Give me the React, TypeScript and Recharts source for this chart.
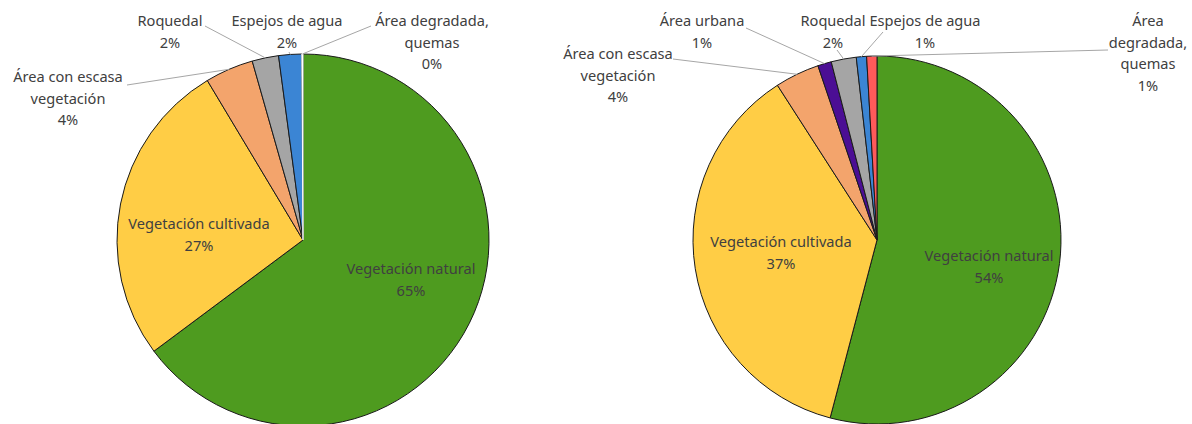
import { Cell, Pie, PieChart } from "recharts";

const leftNames = [
  "Vegetación natural",
  "Vegetación cultivada",
  "Área con escasa vegetación",
  "Roquedal",
  "Espejos de agua",
  "Área degradada, quemas",
];
const leftValues = [64.8, 26.6, 4.2, 2.3, 2.0, 0.1];
const leftLabelLines = [
  ["Vegetación natural"],
  ["Vegetación cultivada"],
  ["Área con escasa", "vegetación"],
  ["Roquedal"],
  ["Espejos de agua"],
  ["Área degradada,", "quemas"],
];

const rightNames = [
  "Vegetación natural",
  "Vegetación cultivada",
  "Área con escasa vegetación",
  "Área urbana",
  "Roquedal",
  "Espejos de agua",
  "Área degradada, quemas",
];
const rightValues = [54.1, 36.8, 3.9, 1.2, 2.2, 0.9, 0.9];
const rightLabelLines = [
  ["Vegetación natural"],
  ["Vegetación cultivada"],
  ["Área con escasa", "vegetación"],
  ["Área urbana"],
  ["Roquedal"],
  ["Espejos de agua"],
  ["Área", "degradada,", "quemas"],
];

const leftColors = ["#4E9B1F", "#FFCD45", "#F3A46C", "#A5A5A5", "#3B85D4", "#FFFFFF"];
const rightColors = ["#4E9B1F", "#FFCD45", "#F3A46C", "#4B0E94", "#A5A5A5", "#3B85D4", "#FF5A5A"];

// label placement, offsets from the pie centre; lx/ly = where the leader line starts
type Place = { dx: number; dy: number; lx?: number; ly?: number };
const leftPlaces: Place[] = [
  { dx: 108, dy: 30 },
  { dx: -104, dy: -15 },
  { dx: -235, dy: -162, lx: -176, ly: -155 },
  { dx: -133, dy: -218, lx: -98, ly: -214 },
  { dx: -16, dy: -218, lx: -14, ly: -188 },
  { dx: 129, dy: -218, lx: 68, ly: -214 },
];
const rightPlaces: Place[] = [
  { dx: 112, dy: 17 },
  { dx: -96, dy: 3 },
  { dx: -259, dy: -185, lx: -204, ly: -181 },
  { dx: -175, dy: -218, lx: -131, ly: -212 },
  { dx: -44, dy: -218, lx: -40, ly: -190 },
  { dx: 48, dy: -218, lx: 6, ly: -208 },
  { dx: 271, dy: -218, lx: 231, ly: -190 },
];

const RAD = Math.PI / 180;
const LINE_H = 21.5;
const FONT = "'Noto Sans', sans-serif";

function makeLabel(values: number[], lines: string[][], places: Place[]) {
  const total = values.reduce((a, b) => a + b, 0);
  return (p: any) => {
    const i = p.index;
    const pl = places[i];
    const x = p.cx + pl.dx;
    const y = p.cy + pl.dy;
    const rows = [...lines[i], `${Math.round((values[i] / total) * 100)}%`];
    let leader = null;
    if (pl.lx !== undefined && pl.ly !== undefined) {
      const ex = p.cx + p.outerRadius * Math.cos(-p.midAngle * RAD);
      const ey = p.cy + p.outerRadius * Math.sin(-p.midAngle * RAD);
      leader = (
        <polyline
          points={`${p.cx + pl.lx},${p.cy + pl.ly} ${ex},${ey}`}
          stroke="#A6A6A6"
          strokeWidth={1}
          fill="none"
        />
      );
    }
    return (
      <g key={`lbl-${i}`}>
        {leader}
        <text
          x={x}
          y={y}
          textAnchor="middle"
          dominantBaseline="middle"
          fill="#404040"
          fontSize={14.6}
          fontFamily={FONT}
        >
          {rows.map((r, k) => (
            <tspan key={k} x={x} y={y + k * LINE_H}>
              {r}
            </tspan>
          ))}
        </text>
      </g>
    );
  };
}

const leftData = leftNames.map((name, i) => ({ name, value: leftValues[i] }));
const rightData = rightNames.map((name, i) => ({ name, value: rightValues[i] }));

export default function App() {
  return (
    <div style={{ position: "absolute", left: 0, top: 0, width: 1192, height: 424, background: "#fff" }}>
      <PieChart width={1192} height={424} margin={{ top: 0, right: 0, bottom: 0, left: 0 }}>
        <Pie
          data={leftData}
          dataKey="value"
          nameKey="name"
          cx={303}
          cy={240}
          outerRadius={186}
          startAngle={90}
          endAngle={-270}
          stroke="#1A1A1A"
          strokeWidth={1}
          label={makeLabel(leftValues, leftLabelLines, leftPlaces)}
          labelLine={false}
          isAnimationActive={false}
        >
          {leftData.map((d, i) => (
            <Cell
              key={d.name}
              fill={leftColors[i]}
              stroke={leftColors[i] === "#FFFFFF" ? "#FFFFFF" : "#1A1A1A"}
            />
          ))}
        </Pie>
        <Pie
          data={rightData}
          dataKey="value"
          nameKey="name"
          cx={877}
          cy={240}
          outerRadius={184}
          startAngle={90}
          endAngle={-270}
          stroke="#1A1A1A"
          strokeWidth={1}
          label={makeLabel(rightValues, rightLabelLines, rightPlaces)}
          labelLine={false}
          isAnimationActive={false}
        >
          {rightData.map((d, i) => (
            <Cell key={d.name} fill={rightColors[i]} />
          ))}
        </Pie>
      </PieChart>
    </div>
  );
}
